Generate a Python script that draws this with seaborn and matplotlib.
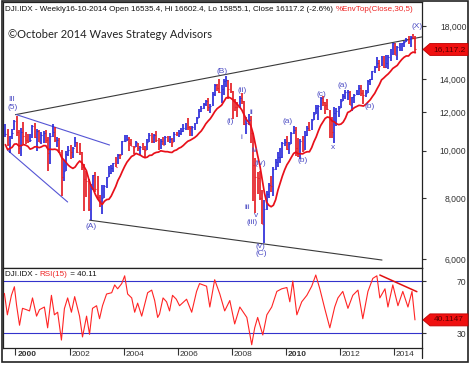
import numpy as np
import pandas as pd
import matplotlib
matplotlib.use("Agg")
import matplotlib.pyplot as plt
import seaborn as sns
from matplotlib.patches import Polygon, Rectangle
from matplotlib.lines import Line2D
from matplotlib.ticker import FixedLocator, FuncFormatter, NullLocator
from matplotlib import transforms

# ---------------- data ----------------
start_month = "1999-08"
end_month = "2014-10"
prev_close = 10655.2  # July 1999 close (open of first bar)

close = [
    10829, 10337, 10729, 10878, 11497,                                              # 1999 Aug-Dec
    10941, 10128, 10922, 10734, 10522, 10448, 10522, 11215, 10651, 10971, 10415, 10787,  # 2000
    10887, 10495, 9879, 10735, 10912, 10502, 10523, 9950, 8848, 9075, 9852, 10022,       # 2001
    9920, 10106, 10404, 9946, 9925, 9243, 8737, 8664, 7592, 8397, 8896, 8342,            # 2002
    8054, 7891, 7992, 8480, 8850, 8985, 9234, 9416, 9275, 9801, 9782, 10454,             # 2003
    10488, 10584, 10358, 10226, 10188, 10435, 10140, 10174, 10080, 10027, 10428, 10783,  # 2004
    10490, 10766, 10504, 10193, 10467, 10275, 10641, 10482, 10569, 10440, 10806, 10718,  # 2005
    10865, 10993, 11109, 11367, 11168, 11150, 11186, 11381, 11679, 12081, 12222, 12463,  # 2006
    12622, 12269, 12354, 13063, 13628, 13409, 13212, 13358, 13896, 13930, 13372, 13265,  # 2007
    12650, 12266, 12263, 12820, 12638, 11350, 11378, 11544, 10851, 9325, 8829, 8776,     # 2008
    8001, 7063, 7609, 8168, 8500, 8447, 9172, 9496, 9712, 9713, 10345, 10428,            # 2009
    10067, 10325, 10857, 11009, 10137, 9774, 10466, 10015, 10788, 11118, 11006, 11578,   # 2010
    11892, 12226, 12320, 12811, 12570, 12414, 12143, 11614, 10913, 11955, 12046, 12218,  # 2011
    12633, 12952, 13212, 13214, 12393, 12880, 13009, 13091, 13437, 13096, 13026, 13104,  # 2012
    13861, 14054, 14579, 14840, 15116, 14910, 15500, 14810, 15130, 15546, 16086, 16577,  # 2013
    15699, 16322, 16458, 16581, 16717, 16827, 16563, 17098, 17043, 16117.2,              # 2014 Jan-Oct
]
high = [
    11326, 11079, 10729, 11089, 11568,
    11750, 11041, 11119, 11425, 10936, 10815, 10843, 11310, 11401, 11078, 11040, 10899,
    10983, 11035, 10641, 10866, 11350, 11175, 10686, 10610, 10033, 9555, 9976, 10213,
    10260, 10165, 10673, 10403, 10353, 9940, 9409, 9077, 8762, 8538, 8932, 9043,
    8870, 8107, 8522, 8516, 8851, 9323, 9338, 9428, 9686, 9837, 9864, 10458,
    10754, 10753, 10679, 10571, 10238, 10479, 10362, 10213, 10344, 10239, 10590, 10868,
    10854, 10841, 10984, 10620, 10542, 10656, 10720, 10719, 10718, 10593, 10931, 10940,
    11043, 11137, 11317, 11383, 11670, 11251, 11233, 11406, 11741, 12163, 12342, 12529,
    12683, 12795, 12481, 13163, 13667, 13692, 14022, 13660, 14000, 14198, 13956, 13778,
    13280, 12767, 12604, 12945, 13136, 12660, 11712, 11867, 11790, 10880, 9654, 9026,
    9088, 8315, 7924, 8277, 8588, 8877, 9242, 9630, 9917, 10119, 10406, 10580,
    10730, 10405, 10908, 11258, 11205, 10595, 10584, 10720, 10948, 11246, 11452, 11625,
    12020, 12391, 12419, 12876, 12929, 12570, 12753, 12132, 11717, 12284, 12208, 12330,
    12754, 13055, 13289, 13338, 13280, 12901, 13062, 13331, 13653, 13661, 13290, 13300,
    13969, 14054, 14585, 14888, 15542, 15340, 15658, 15658, 15709, 15722, 16174, 16588,
    16588, 16398, 16631, 16632, 16735, 16978, 17152, 17154, 17350, 17193,
]
low = [
    10646, 10213, 9884, 10581, 10998,
    10701, 9862, 9731, 10306, 10299, 10376, 10406, 10606, 10628, 9975, 10399, 10318,
    10365, 10391, 9106, 9390, 10689, 10434, 10175, 9895, 8062, 8659, 9075, 9763,
    9618, 9680, 10172, 9880, 9808, 9120, 7532, 8043, 7528, 7197, 8293, 8232,
    7945, 7673, 7416, 7992, 8398, 8850, 8942, 9053, 9275, 9371, 9613, 9782,
    10410, 10470, 9991, 10222, 9853, 10195, 9962, 9814, 10013, 9708, 10035, 10440,
    10368, 10370, 10404, 10012, 10094, 10254, 10270, 10397, 10378, 10156, 10405, 10706,
    10661, 10759, 10940, 11014, 11024, 10699, 10739, 11040, 11337, 11660, 11996, 12190,
    12332, 12050, 11939, 12354, 12930, 13266, 13154, 12518, 13026, 13502, 12743, 13132,
    11635, 12041, 11731, 12225, 12479, 11287, 10827, 11284, 10365, 7882, 7449, 8149,
    7909, 7063, 6469, 7550, 8012, 8221, 8087, 9108, 9252, 9430, 9678, 10236,
    10043, 9835, 10325, 10838, 9774, 9717, 9614, 9936, 10010, 10712, 10963, 11006,
    11578, 11892, 11555, 12094, 12359, 11862, 12094, 10605, 10597, 10362, 11231, 11735,
    12218, 12613, 12759, 12711, 12383, 12035, 12492, 12980, 12977, 12951, 12472, 12883,
    13104, 13648, 13938, 14434, 14762, 14551, 14910, 14760, 14777, 14719, 15285, 15703,
    15699, 15340, 16016, 16015, 16333, 16702, 16515, 16333, 16945, 15855,
]
env_window = 7      # 30 weeks ~ 7 months
env_pct = 5

rsi_year = [1999.59, 1999.70, 1999.85, 1999.96, 2000.04, 2000.15, 2000.26, 2000.40, 2000.52, 2000.63,
            2000.78, 2000.89, 2001.07, 2001.19, 2001.33, 2001.44, 2001.56, 2001.70, 2001.81, 2001.93,
            2002.07, 2002.19, 2002.37, 2002.48, 2002.63, 2002.74, 2002.85, 2003.00, 2003.11, 2003.22,
            2003.37, 2003.56, 2003.67, 2003.78, 2003.93, 2004.04, 2004.15, 2004.30, 2004.41, 2004.52,
            2004.67, 2004.78, 2004.89, 2005.04, 2005.15, 2005.26, 2005.33, 2005.46, 2005.59, 2005.70,
            2005.81, 2005.95, 2006.07, 2006.33, 2006.52, 2006.70, 2006.81, 2007.07, 2007.19, 2007.37,
            2007.56, 2007.74, 2007.93, 2008.11, 2008.30, 2008.56, 2008.74, 2008.85, 2008.96, 2009.15,
            2009.30, 2009.48, 2009.67, 2009.85, 2010.04, 2010.15, 2010.26, 2010.41, 2010.59, 2010.78,
            2010.96, 2011.11, 2011.26, 2011.44, 2011.63, 2011.81, 2011.93, 2012.11, 2012.30, 2012.48,
            2012.67, 2012.85, 2013.04, 2013.22, 2013.37, 2013.48, 2013.67, 2013.78, 2013.96, 2014.15,
            2014.33, 2014.52, 2014.67, 2014.78]
rsi_val = [60.5, 44, 59, 65.6, 51.5, 36, 49, 48, 47, 57,
           43, 48, 50, 34, 59, 44, 46, 24.6, 48.8, 57,
           46, 58, 43, 27, 43, 29, 49, 51, 41, 51,
           60, 61, 67, 64, 68, 74, 60, 57, 46, 53,
           43, 52, 61, 63, 55, 42, 44.6, 57, 54, 47,
           59, 56, 51, 56, 46, 62, 68, 66, 50, 71,
           60, 47, 55, 37, 50, 42, 21, 34, 42, 28.5,
           44, 50, 62, 64, 65, 54, 70, 44, 54, 59,
           66, 74.6, 64, 49, 34, 50, 57, 62, 49, 59,
           63, 41, 62, 72, 74, 57, 64, 50, 67, 51,
           62, 50, 62, 40.11]
rsi_levels = [70, 30]
rsi_trend_year = [2013.48, 2014.85]
rsi_trend_val = [74.6, 61.8]

# trend lines (year, price)
black_lines = [([2000.00, 2015.04], [11850, 17100]),
               ([2002.74, 2013.56], [7205, 5970])]
blue_lines = [([2000.04, 2003.48], [11850, 10270]),
              ([1999.70, 2001.93], [10030, 7850])]

wave_text = ["III", "(5)", "(A)", "(B)", "(i)", "(ii)", "i", "ii", "iv", "(iv)", "iii", "v", "(iii)",
             "(v)", "(C)", "(a)", "(b)", "(c)", "x", "(a)", "(b)", "(X)"]
wave_year = [1999.85, 1999.89, 2002.78, 2007.63, 2007.93, 2008.37, 2008.37, 2008.74, 2008.85, 2009.04,
             2008.59, 2008.89, 2008.74, 2009.07, 2009.11, 2010.07, 2010.63, 2011.33, 2011.74, 2012.11,
             2013.11, 2014.85]
wave_price = [12700, 12230, 6980, 14560, 11460, 13250, 10640, 12000, 10010, 9400,
              7650, 7360, 7110, 6350, 6150, 11460, 9530, 13010, 10150, 13570,
              12290, 18000]

year_ticks = [2000, 2002, 2004, 2006, 2008, 2010, 2012, 2014]
bold_years = [2000, 2010]
price_ticks = [6000, 8000, 10000, 12000, 14000, 18000]

header_black = "DJI.IDX - Weekly16-10-2014 Open 16535.4, Hi 16602.4, Lo 15855.1, Close 16117.2 (-2.6%) "
header_red = "%EnvTop(Close,30,5)"
rsi_hdr = ["DJI.IDX - ", "RSI(15)", " = 40.11"]
copyright_text = "\u00a9October 2014 Waves Strategy Advisors"
last_price_label = "16,117.2"
last_rsi_label = "40.1147"

# ---------------- derived frame ----------------
per = pd.period_range(start_month, end_month, freq="M")
df = pd.DataFrame({"close": close, "high": high, "low": low})
df["year"] = per.year + (per.month - 0.5) / 12.0
df["open"] = [prev_close] + close[:-1]
df["up"] = df["close"] >= df["open"]
df["env"] = df["close"].rolling(env_window, min_periods=1).mean() * (1 - env_pct / 100.0)

# ---------------- style ----------------
sns.set_style("white")
plt.rcParams["font.family"] = ["Liberation Sans", "DejaVu Sans"]

W, H = 474, 369
fig = plt.figure(figsize=(W / 100, H / 100), dpi=100)
fig.patch.set_facecolor("white")

def rect(x0, y0, x1, y1):
    return [x0 / W, 1 - y1 / H, (x1 - x0) / W, (y1 - y0) / H]

ax = fig.add_axes(rect(2.5, 2, 422, 268))
ax2 = fig.add_axes(rect(2.5, 268, 422, 348), sharex=ax)

BLUE_BAR = "#2424d8"
RED_BAR = "#e4161e"
LABEL_BLUE = "#4c4cc4"
TXT = "#333333"

xmin, xmax = 1999.52, 2015.04

# price panel
ax.set_yscale("log")
up = df[df["up"]]
dn = df[~df["up"]]
ax.vlines(up["year"], up["low"], up["high"], color=BLUE_BAR, lw=1.2, zorder=3)
ax.vlines(dn["year"], dn["low"], dn["high"], color=RED_BAR, lw=1.2, zorder=3)
ax.hlines(up["close"], up["year"], up["year"] + 0.035, color=BLUE_BAR, lw=0.8, zorder=3)
ax.hlines(dn["close"], dn["year"], dn["year"] + 0.035, color=RED_BAR, lw=0.8, zorder=3)
sns.lineplot(data=df, x="year", y="env", ax=ax, color="#e8101a", lw=1.25, zorder=4)

for xs, ys in black_lines:
    ax.plot(xs, ys, color="#3a3a3a", lw=0.8, zorder=2)
for xs, ys in blue_lines:
    ax.plot(xs, ys, color="#5555d5", lw=0.8, zorder=2)

for t, xv, yv in zip(wave_text, wave_year, wave_price):
    ax.text(xv, yv, t, color=LABEL_BLUE, fontsize=6, ha="center", va="center", zorder=5)

ax.set_xlim(xmin, xmax)
ax.set_ylim(5750, 20160)
ax.yaxis.set_major_locator(FixedLocator(price_ticks))
ax.yaxis.set_minor_locator(NullLocator())
ax.yaxis.set_major_formatter(FuncFormatter(lambda v, p: f"{v:,.0f}"))
ax.yaxis.tick_right()
ax.tick_params(axis="y", which="major", direction="out", length=3, width=0.8, colors=TXT,
               labelsize=6.2, pad=29)
for lab in ax.get_yticklabels():
    lab.set_horizontalalignment("right")
ax.tick_params(axis="x", bottom=False, labelbottom=False)
ax.set_xlabel("")
ax.set_ylabel("")
for s in ax.spines.values():
    s.set_color("#222222")
    s.set_linewidth(0.9)

# rsi panel
sns.lineplot(x=rsi_year, y=rsi_val, ax=ax2, color="#ff2424", lw=0.8, zorder=3)
for lv in rsi_levels:
    ax2.axhline(lv, color="#3333cc", lw=0.8, zorder=2)
ax2.plot(rsi_trend_year, rsi_trend_val, color="#e01010", lw=1.1, zorder=4)
ax2.set_ylim(18.5, 80)
ax2.set_xlim(xmin, xmax)
ax2.yaxis.set_major_locator(FixedLocator(rsi_levels))
ax2.yaxis.tick_right()
ax2.tick_params(axis="y", direction="out", length=3, width=0.8, colors=TXT, labelsize=6.2, pad=29)
for lab in ax2.get_yticklabels():
    lab.set_horizontalalignment("right")
ax2.xaxis.set_major_locator(FixedLocator(year_ticks))
ax2.tick_params(axis="x", direction="out", length=5, width=0.8, colors=TXT,
                bottom=True, labelbottom=False)
ax2.set_xlabel("")
ax2.set_ylabel("")
for s in ax2.spines.values():
    s.set_color("#222222")
    s.set_linewidth(0.9)

blend = transforms.blended_transform_factory(ax2.transData, ax2.transAxes)
lab_tr = transforms.offset_copy(blend, fig=fig, x=2, y=0, units="dots")
for yr in year_ticks:
    ax2.text(yr, -0.085, str(yr), transform=lab_tr, ha="left", va="center", fontsize=6,
             color=TXT, fontweight="bold" if yr in bold_years else "normal", clip_on=False)

# header texts
h1 = fig.text(5 / W, 1 - 9.5 / H, header_black, fontsize=5.8, color="#111111", va="center", ha="left")
ax.annotate(header_red, xy=(1, 0.5), xycoords=h1, va="center", ha="left", fontsize=5.8,
            color="#ee2222", annotation_clip=False)
r1 = fig.text(5 / W, 1 - 274 / H, rsi_hdr[0], fontsize=5.8, color="#111111", va="center", ha="left")
r2 = ax2.annotate(rsi_hdr[1], xy=(1, 0.5), xycoords=r1, va="center", ha="left", fontsize=5.8,
                  color="#ee2222", annotation_clip=False)
ax2.annotate(rsi_hdr[2], xy=(1, 0.5), xycoords=r2, va="center", ha="left", fontsize=5.8,
             color="#111111", annotation_clip=False)

fig.text(8 / W, 1 - 35 / H, copyright_text, fontsize=8, color="#222222", va="center", ha="left",
         family=["Lato", "DejaVu Sans"])

# value tags on right
def value_tag(axis, value, text):
    xd, yd = axis.transData.transform((xmax, value))
    pts = [(xd + 1, yd), (xd + 8, yd + 6), (xd + 46, yd + 6), (xd + 46, yd - 6), (xd + 8, yd - 6)]
    poly = Polygon(pts, closed=True, transform=transforms.IdentityTransform(),
                   facecolor="#f01010", edgecolor="#c00000", lw=0.6, zorder=10)
    fig.add_artist(poly)
    fig.text((xd + 27) / W, yd / H, text, fontsize=6, color="#5a0000", ha="center", va="center",
             zorder=11)

value_tag(ax, close[-1], last_price_label)
value_tag(ax2, rsi_val[-1], last_rsi_label)

# outer frame and extension of axis line
fig.add_artist(Rectangle((2 / W, 1 - 362 / H), 466 / W, 361 / H, transform=fig.transFigure,
                         fill=False, edgecolor="#222222", lw=1.2))
fig.add_artist(Line2D([422 / W, 422 / W], [1 - 348 / H, 1 - 358 / H], transform=fig.transFigure,
                      color="#222222", lw=0.9))

fig.savefig("out.png", dpi=100)
